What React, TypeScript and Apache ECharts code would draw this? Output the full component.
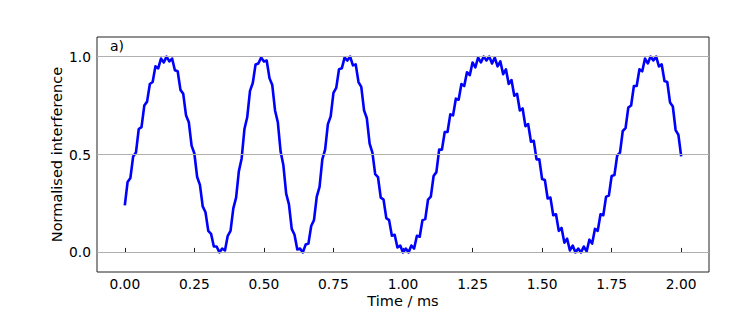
import React, { useEffect, useRef } from 'react';
import * as echarts from 'echarts';

// sampling step of the trace (ms)
const timeStepMs = 0.01;

// Normalised interference, one value every 0.01 ms from 0 to 2.00 ms
const interference = [
  0.24, 0.36, 0.38, 0.49, 0.51, 0.63, 0.64, 0.75, 0.77, 0.86,
  0.87, 0.95, 0.94, 0.99, 0.97, 1.0, 0.975, 0.99, 0.93, 0.925,
  0.83, 0.81, 0.70, 0.665, 0.545, 0.505, 0.385, 0.345, 0.235, 0.205,
  0.11, 0.095, 0.03, 0.03, 0.0, 0.02, 0.01, 0.085, 0.11, 0.225,
  0.28, 0.415, 0.48, 0.63, 0.69, 0.825, 0.865, 0.96, 0.965, 0.995,
  0.975, 0.98, 0.89, 0.855, 0.725, 0.665, 0.515, 0.445, 0.30, 0.245,
  0.12, 0.09, 0.015, 0.02, 0.0, 0.04, 0.045, 0.135, 0.165, 0.285,
  0.335, 0.475, 0.525, 0.655, 0.695, 0.815, 0.84, 0.935, 0.94, 0.995,
  0.98, 1.0, 0.955, 0.96, 0.87, 0.845, 0.725, 0.685, 0.555, 0.51,
  0.40, 0.385, 0.28, 0.27, 0.175, 0.165, 0.085, 0.09, 0.025, 0.035,
  0.0, 0.02, 0.0, 0.035, 0.02, 0.085, 0.08, 0.165, 0.17, 0.27,
  0.285, 0.39, 0.41, 0.525, 0.525, 0.615, 0.615, 0.705, 0.70, 0.785,
  0.78, 0.86, 0.85, 0.92, 0.905, 0.97, 0.945, 0.995, 0.97, 1.0,
  0.98, 1.0, 0.965, 0.995, 0.95, 0.975, 0.91, 0.935, 0.86, 0.88,
  0.80, 0.81, 0.725, 0.735, 0.645, 0.655, 0.565, 0.57, 0.475, 0.475,
  0.375, 0.37, 0.275, 0.28, 0.19, 0.195, 0.11, 0.125, 0.05, 0.07,
  0.01, 0.035, 0.0, 0.02, 0.0, 0.03, 0.005, 0.065, 0.045, 0.12,
  0.11, 0.195, 0.19, 0.285, 0.29, 0.39, 0.395, 0.495, 0.51, 0.62,
  0.635, 0.74, 0.75, 0.85, 0.85, 0.935, 0.925, 0.99, 0.965, 1.0,
  0.98, 1.0, 0.95, 0.96, 0.875, 0.87, 0.765, 0.745, 0.625, 0.6,
  0.49,
];

const xTickValues = [0, 0.25, 0.5, 0.75, 1.0, 1.25, 1.5, 1.75, 2.0];
const yTickValues = [0, 0.5, 1.0];
const xRange = [-0.1, 2.1];
const yRange = [-0.1, 1.1];

const panelLabel = 'a)';
const xTitle = 'Time / ms';
const yTitle = 'Normalised interference';

const FONT = 'DejaVu Sans';

export default function App() {
  const ref = useRef<HTMLDivElement>(null);

  useEffect(() => {
    if (!ref.current) return;
    const chart = echarts.init(ref.current, null, { renderer: 'svg' });
    const points = interference.map((v, i) => [+(i * timeStepMs).toFixed(2), v]);

    chart.setOption({
      animation: false,
      backgroundColor: '#ffffff',
      grid: {
        left: 97,
        right: 38,
        top: 37,
        bottom: 42,
        show: true,
        borderColor: '#222222',
        borderWidth: 1,
        backgroundColor: 'transparent',
        outerBoundsMode: 'none',
      },
      xAxis: {
        type: 'value',
        min: xRange[0],
        max: xRange[1],
        name: xTitle,
        nameLocation: 'middle',
        nameGap: 21,
        nameMoveOverlap: false,
        nameTextStyle: { fontFamily: FONT, fontSize: 14.5, color: '#000' },
        axisLine: { show: false },
        axisTick: {
          show: true,
          inside: true,
          length: 4.5,
          customValues: xTickValues,
          lineStyle: { color: '#222', width: 1 },
        },
        axisLabel: {
          customValues: xTickValues,
          formatter: (v: number) => v.toFixed(2),
          fontFamily: FONT,
          fontSize: 13.8,
          color: '#000',
          margin: 5,
        },
        splitLine: { show: false },
      },
      yAxis: {
        type: 'value',
        min: yRange[0],
        max: yRange[1],
        name: yTitle,
        nameLocation: 'middle',
        nameGap: 33,
        nameMoveOverlap: false,
        nameRotate: 90,
        nameTextStyle: { fontFamily: FONT, fontSize: 14.5, color: '#000' },
        axisLine: { show: false },
        axisTick: {
          show: true,
          inside: true,
          length: 4.5,
          customValues: yTickValues,
          lineStyle: { color: '#222', width: 1 },
        },
        axisLabel: {
          customValues: yTickValues,
          formatter: (v: number) => v.toFixed(1),
          fontFamily: FONT,
          fontSize: 13.8,
          color: '#000',
          margin: 6,
        },
        splitLine: { show: false },
      },
      series: [
        {
          type: 'line',
          data: [],
          z: 1,
          silent: true,
          markLine: {
            silent: true,
            symbol: ['none', 'none'],
            label: { show: false },
            lineStyle: { color: '#b0b0b0', width: 1, type: 'solid' },
            data: yTickValues.map((v) => ({ yAxis: v })),
          },
        },
        {
          type: 'line',
          data: points,
          z: 3,
          showSymbol: false,
          symbol: 'none',
          lineStyle: { color: '#0000ff', width: 2.6, join: 'round', cap: 'butt' },
          itemStyle: { color: '#0000ff' },
        },
      ],
      graphic: [
        {
          type: 'text',
          left: 110,
          top: 39,
          style: { text: panelLabel, fontFamily: FONT, fontSize: 14, fill: '#000' },
        },
      ],
    });

    return () => chart.dispose();
  }, []);

  return (
    <div
      ref={ref}
      style={{ position: 'fixed', left: 0, top: 0, width: 747, height: 314 }}
    />
  );
}
